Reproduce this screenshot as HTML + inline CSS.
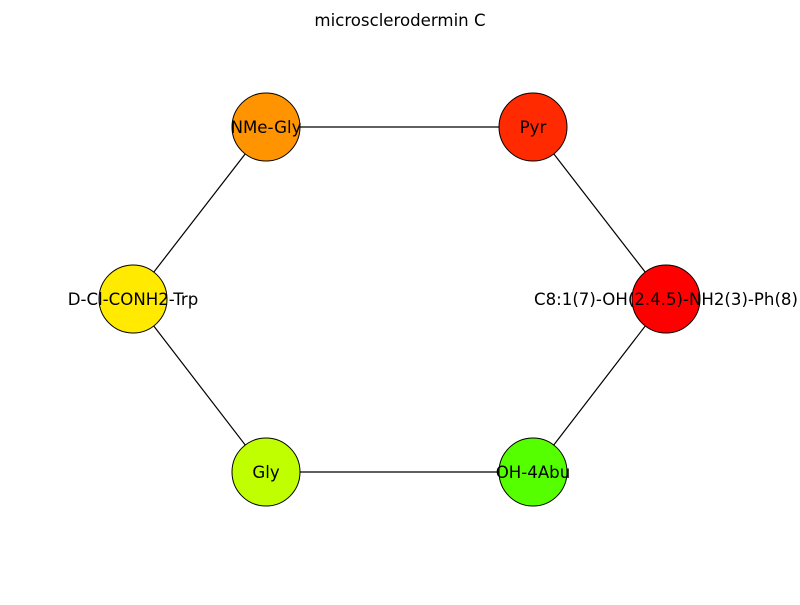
<!DOCTYPE html>
<html><head><meta charset="utf-8"><style>body{margin:0;background:#fff}</style></head><body>
<svg width="800" height="600" xmlns="http://www.w3.org/2000/svg" font-family="'DejaVu Sans', 'Liberation Sans', sans-serif" font-size="16.6">
<rect width="800" height="600" fill="#fff"/>
<text x="400" y="26" text-anchor="middle">microsclerodermin C</text>
<g stroke="#000" stroke-width="1.2">
<line x1="266" y1="127" x2="533" y2="127"/>
<line x1="533" y1="127" x2="666" y2="299"/>
<line x1="666" y1="299" x2="533" y2="472"/>
<line x1="533" y1="472" x2="266" y2="472"/>
<line x1="266" y1="472" x2="133" y2="299"/>
<line x1="133" y1="299" x2="266" y2="127"/>
</g>
<g stroke="#000" stroke-width="1">
<circle cx="266" cy="127" r="34" fill="#ff9400"/>
<circle cx="533" cy="127" r="34" fill="#ff2a00"/>
<circle cx="666" cy="299" r="34" fill="#ff0000"/>
<circle cx="533" cy="472" r="34" fill="#55ff00"/>
<circle cx="266" cy="472" r="34" fill="#bfff00"/>
<circle cx="133" cy="299" r="34" fill="#ffea00"/>
</g>
<g text-anchor="middle">
<text x="266" y="133">NMe-Gly</text>
<text x="533" y="133">Pyr</text>
<text x="666" y="305">C8:1(7)-OH(2.4.5)-NH2(3)-Ph(8)</text>
<text x="533" y="478">OH-4Abu</text>
<text x="266" y="478">Gly</text>
<text x="133" y="305">D-Cl-CONH2-Trp</text>
</g>
</svg>
</body></html>
